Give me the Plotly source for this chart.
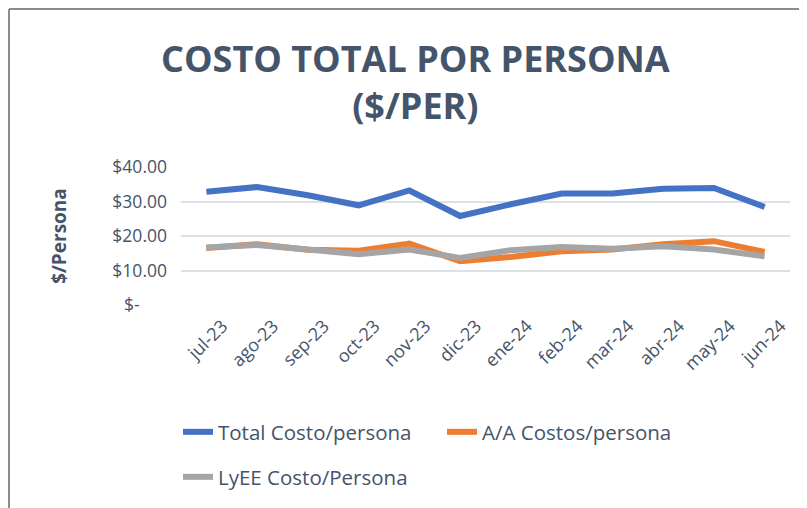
import plotly.graph_objects as go

months = ["jul-23", "ago-23", "sep-23", "oct-23", "nov-23", "dic-23",
          "ene-24", "feb-24", "mar-24", "abr-24", "may-24", "jun-24"]
total_costo = [32.8, 34.2, 31.8, 28.9, 33.2, 25.8, 29.2, 32.3, 32.3, 33.7, 33.9, 28.4]
aa_costos = [16.5, 17.6, 16.0, 15.7, 17.8, 12.7, 13.9, 15.6, 16.1, 17.6, 18.5, 15.4]
lyee_costo = [16.7, 17.4, 16.1, 14.7, 16.1, 13.6, 15.9, 16.8, 16.3, 17.0, 16.1, 14.1]
ytick_vals = [0, 10, 20, 30, 40]
ytick_text = ["$-\u00a0\u00a0\u00a0\u00a0\u00a0\u00a0", "$10.00", "$20.00", "$30.00", "$40.00"]

# page body has an 8px margin; figure sized to fit the window
OFF = 8
W, H = 807 - OFF, 508 - OFF
# plot area in screenshot coords: x 181..790, y 167..305
L = 181 - OFF
T = 167 - OFF
R = W - (790 - OFF)
B = H - (305 - OFF)
FONT = "Open Sans"
TXT = "#44546A"

fig = go.Figure()
fig.add_trace(go.Scatter(x=months, y=total_costo, name="Total Costo/persona", mode="lines",
                         line=dict(color="#4472C4", width=6), legend="legend"))
fig.add_trace(go.Scatter(x=months, y=aa_costos, name="A/A Costos/persona", mode="lines",
                         line=dict(color="#ED7D31", width=6), legend="legend"))
fig.add_trace(go.Scatter(x=months, y=lyee_costo, name="LyEE Costo/Persona", mode="lines",
                         line=dict(color="#A5A5A5", width=6), legend="legend2"))

pw, ph = W - L - R, H - T - B
def px(x):
    return (x - OFF - L) / pw
def py(y):
    return (H - B - (y - OFF)) / ph

fig.update_layout(
    width=W, height=H,
    margin=dict(l=L, r=R, t=T, b=B, autoexpand=False),
    paper_bgcolor="white", plot_bgcolor="white",
    font=dict(family=FONT, color=TXT),
    showlegend=True,
    legend=dict(orientation="h", x=px(178), y=py(432), xanchor="left", yanchor="middle",
                font=dict(size=20.5, color=TXT), entrywidth=219, entrywidthmode="pixels",
                bgcolor="rgba(0,0,0,0)"),
    legend2=dict(orientation="h", x=px(178), y=py(477), xanchor="left", yanchor="middle",
                 font=dict(size=20.5, color=TXT), bgcolor="rgba(0,0,0,0)"),
    xaxis=dict(type="category", range=[-0.5, 11.5], tickangle=-45,
               tickfont=dict(size=18, color=TXT), ticklabelshift=16, ticklabelstandoff=6,
               showgrid=False, showline=False, ticks="", zeroline=False),
    yaxis=dict(range=[0, 40], tickvals=ytick_vals, ticktext=ytick_text,
               tickfont=dict(size=17.5, color=TXT), ticklabelstandoff=13,
               showgrid=True, gridcolor="#DDE1E6",
               gridwidth=1.5, zeroline=False, showline=False, ticks="",
               title=dict(text="<b>$/Persona</b>", font=dict(size=19, color=TXT), standoff=40)),
)

fig.add_annotation(text="<b>COSTO TOTAL POR PERSONA<br>($/PER)</b>", xref="paper", yref="paper",
                   x=px(415), y=py(82), xanchor="center", yanchor="middle", showarrow=False,
                   font=dict(size=36, color=TXT, family=FONT))

fig.add_shape(type="line", xref="paper", yref="paper", x0=px(9), x1=px(9), y0=py(9), y1=py(508),
              line=dict(color="#8C8C8C", width=2))
fig.add_shape(type="line", xref="paper", yref="paper", x0=px(9), x1=px(807), y0=py(9), y1=py(9),
              line=dict(color="#8C8C8C", width=2))

fig.write_html("out.html")
